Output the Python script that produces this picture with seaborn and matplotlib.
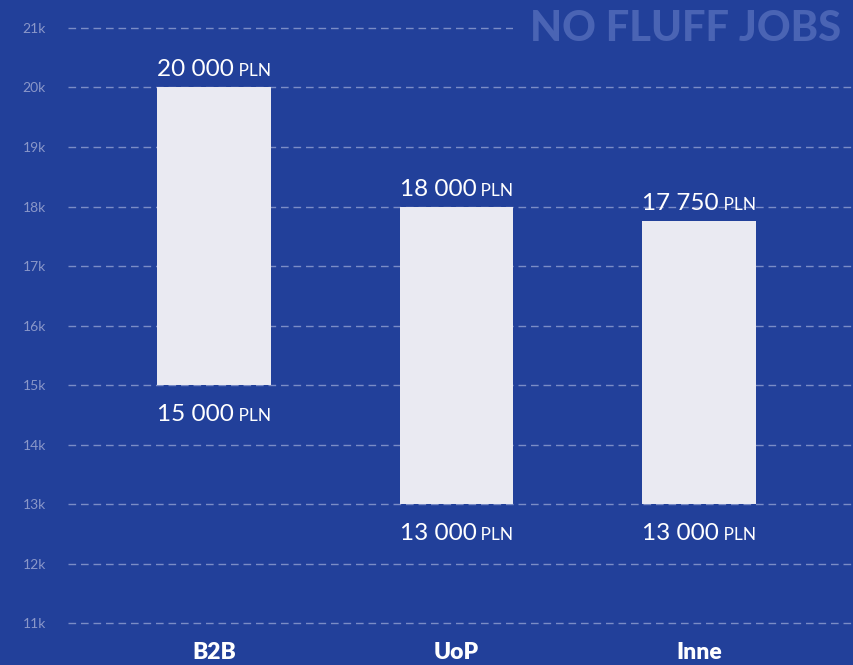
import matplotlib
matplotlib.use("Agg")
import matplotlib.pyplot as plt
import seaborn as sns
import pandas as pd
from matplotlib.ticker import FuncFormatter, MultipleLocator

categories = ["B2B", "UoP", "Inne"]
low_values = [15000, 13000, 13000]
high_values = [20000, 18000, 17750]
top_labels = ["20 000", "18 000", "17 750"]
bottom_labels = ["15 000", "13 000", "13 000"]
unit = "PLN"

BG = "#22409a"
BAR = "#eaeaf2"

sns.set_theme(style="dark")
plt.rcParams["font.family"] = ["Lato", "DejaVu Sans"]

df = pd.DataFrame({
    "cat": categories,
    "low": low_values,
    "high": high_values,
})
df["span"] = df["high"] - df["low"]

fig = plt.figure(figsize=(8.54, 6.65), dpi=100, facecolor=BG)
ax = fig.add_axes([0.0796, 0.0496, 0.9204, 0.9504])
ax.set_facecolor(BG)

sns.barplot(data=df, x="cat", y="span", bottom=df["low"].values, color=BAR,
            saturation=1, width=0.47, ax=ax, zorder=3, linewidth=0)

ax.set_ylim(10850, 21470)
ax.set_xlim(-0.603, 2.64)
ax.yaxis.set_major_locator(MultipleLocator(1000))
ax.yaxis.set_major_formatter(FuncFormatter(lambda v, p: f"{int(round(v/1000))}k"))
ax.grid(axis="y", color="#8495cc", linestyle=(0, (5.5, 3.5)), linewidth=1.0, alpha=0.9, zorder=0)
ax.grid(axis="x", visible=False)
for s in ax.spines.values():
    s.set_visible(False)
ax.set_xlabel("")
ax.set_ylabel("")
ax.tick_params(axis="y", colors="#8a97c9", labelsize=10, length=0, pad=16)
ax.tick_params(axis="x", colors="white", labelsize=16.5, length=0, pad=7)
for t in ax.get_xticklabels():
    t.set_fontweight("heavy")
    t.set_color("white")

fig.canvas.draw()
renderer = fig.canvas.get_renderer()

NUM_FS = 17.5
UNIT_FS = 12.5

def place_label(xc, yv, num, dy_px, va):
    t1 = ax.text(0, 0, num, fontsize=NUM_FS, color="white")
    t2 = ax.text(0, 0, " " + unit, fontsize=UNIT_FS, color="white")
    w1 = t1.get_window_extent(renderer).width
    w2 = t2.get_window_extent(renderer).width
    t1.remove(); t2.remove()
    total = w1 + w2
    x_disp, y_disp = ax.transData.transform((xc, yv))
    left = x_disp - total / 2
    inv = fig.transFigure.inverted()
    p1 = inv.transform((left, y_disp + dy_px))
    p2 = inv.transform((left + w1, y_disp + dy_px))
    fig.text(p1[0], p1[1], num, fontsize=NUM_FS, color="white", ha="left", va=va)
    fig.text(p2[0], p2[1], " " + unit, fontsize=UNIT_FS, color="white", ha="left", va=va)

for i in range(len(categories)):
    place_label(i, high_values[i], top_labels[i], 11, "baseline")
    place_label(i, low_values[i], bottom_labels[i], -36, "baseline")

# watermark (covers the top gridline behind it)
fig.text(530 / 854, 1 - 29 / 665, "NO FLUFF JOBS", fontsize=30, fontweight="black",
         color="#4a64b4", ha="left", va="center", zorder=5,
         bbox=dict(boxstyle="square,pad=0.4", facecolor=BG, edgecolor="none"))

fig.savefig("out.png", dpi=100, facecolor=BG)
